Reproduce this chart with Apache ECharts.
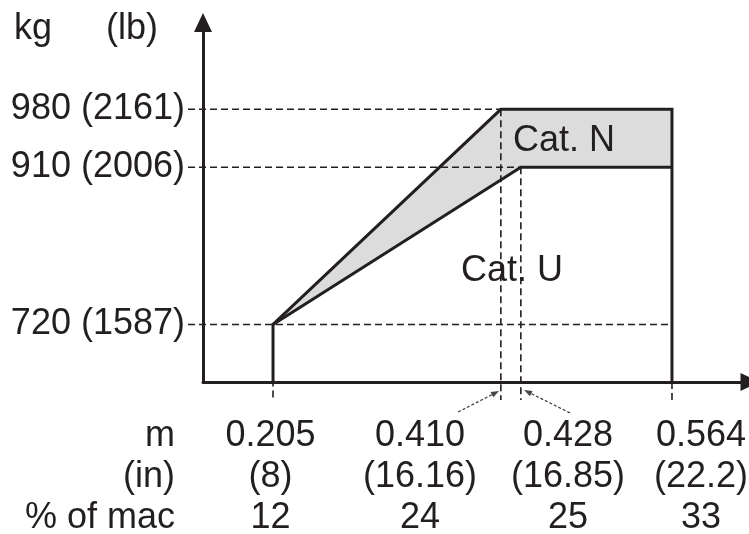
<!DOCTYPE html>
<html>
<head>
<meta charset="utf-8">
<script src="https://cdn.jsdelivr.net/npm/echarts@6/dist/echarts.min.js"></script>
<style>
  html, body { margin: 0; padding: 0; background: #ffffff; }
  #chart { width: 749px; height: 534px; }
</style>
</head>
<body>
<div id="chart"></div>
<script>
// ---- data ----
const cgPositionsM = [0.205, 0.410, 0.428, 0.564];
const cgPositionsIn = ['(8)', '(16.16)', '(16.85)', '(22.2)'];
const cgPercentMac = [12, 24, 25, 33];
// label columns are spread apart under the axis (pointers link 0.410 / 0.428 to their ticks)
const cgLabelAnchorM = [0.2027, 0.3373, 0.4704, 0.5901];
const weightKg = [720, 910, 980];
const weightLb = [1587, 2006, 2161];
const catNBoundary = [[0.205, 720], [0.410, 980], [0.564, 980]];
const catUBoundary = [[0.205, 720], [0.428, 910], [0.564, 910]];
const categoryNames = ['Cat. N', 'Cat. U'];
const categoryLabelPos = [[0.4669, 941.7], [0.4201, 784.6]];
const pointerLines = [
  [0.3715, 614.2, 0.4084, 639.6],
  [0.4722, 613.1, 0.4309, 640.8]
];

// ---- axis ranges ----
const xMin = 0.142, xMax = 0.6342;
const yMin = 650.5, yMax = 1084.9;
const guideLeftM = 0.1285;   // dashed guides start just right of the y labels
const guideBelowKg = 628.7;  // dashed guides stop just below the x axis

const INK = '#231f20';
const FONT = "'Liberation Sans', Arial, Helvetica, sans-serif";
const FS = 36;

// envelope outline (Cat. N outer boundary, down to the axis at both ends)
const outline = [[cgPositionsM[0], yMin]].concat(catNBoundary).concat([[cgPositionsM[3], yMin]]);

// dashed guide lines [x1, y1, x2, y2]
const guides = [
  [guideLeftM, weightKg[2], cgPositionsM[1], weightKg[2]],
  [guideLeftM, weightKg[1], cgPositionsM[2], weightKg[1]],
  [guideLeftM, weightKg[0], cgPositionsM[3], weightKg[0]],
  [cgPositionsM[0], weightKg[0], cgPositionsM[0], guideBelowKg],
  [cgPositionsM[1], weightKg[2], cgPositionsM[1], guideBelowKg],
  [cgPositionsM[2], weightKg[1], cgPositionsM[2], guideBelowKg],
  [cgPositionsM[3], yMin, cgPositionsM[3], guideBelowKg]
];

const chart = echarts.init(document.getElementById('chart'), null, { renderer: 'canvas' });

const option = {
  animation: false,
  backgroundColor: '#ffffff',
  grid: { left: 203, top: 22.5, width: 547, height: 359.5, outerBoundsMode: 'none', containLabel: false },
  xAxis: {
    type: 'value', min: xMin, max: xMax,
    splitLine: { show: false }, axisTick: { show: false },
    axisLine: { show: true, onZero: false, symbol: ['none', 'triangle'], symbolSize: [18, 19],
      lineStyle: { color: INK, width: 3 } },
    axisLabel: {
      customValues: cgLabelAnchorM,
      formatter: function (v) {
        let i = 0, best = Infinity;
        cgLabelAnchorM.forEach(function (a, k) { const d = Math.abs(a - v); if (d < best) { best = d; i = k; } });
        return cgPositionsM[i].toFixed(3) + '\n' + cgPositionsIn[i] + '\n' + cgPercentMac[i];
      },
      margin: 33.5, fontSize: FS, lineHeight: 41, color: INK, fontFamily: FONT
    }
  },
  yAxis: {
    type: 'value', min: yMin, max: yMax,
    splitLine: { show: false }, axisTick: { show: false },
    axisLine: { show: true, onZero: false, symbol: ['none', 'triangle'], symbolSize: [18, 19],
      lineStyle: { color: INK, width: 3 } },
    axisLabel: {
      customValues: weightKg,
      formatter: function (v) {
        const i = weightKg.indexOf(v);
        return v + ' (' + weightLb[i] + ')';
      },
      margin: 18, fontSize: FS, color: INK, fontFamily: FONT
    }
  },
  graphic: [
    { type: 'text', x: 14, y: 29, style: { text: 'kg', fontSize: FS, fontFamily: FONT, fill: INK, verticalAlign: 'middle' } },
    { type: 'text', x: 106, y: 29, style: { text: '(lb)', fontSize: FS, fontFamily: FONT, fill: INK, verticalAlign: 'middle' } },
    { type: 'text', x: 175, y: 415.5, style: { text: 'm\n(in)\n% of mac', fontSize: FS, lineHeight: 41, fontFamily: FONT, fill: INK, align: 'right', verticalAlign: 'top' } }
  ],
  series: [
    {
      // grey band between the two category boundaries
      type: 'custom', z: 1, silent: true,
      data: [0],
      renderItem: function (params, api) {
        const pts = catNBoundary.concat(catUBoundary.slice().reverse()).map(function (p) { return api.coord(p); });
        return { type: 'polygon', shape: { points: pts }, style: { fill: '#dcdcdc', stroke: null } };
      }
    },
    {
      type: 'line', z: 3, data: outline, showSymbol: false, symbol: 'none', silent: true,
      lineStyle: { color: INK, width: 3, join: 'miter' }
    },
    {
      type: 'line', z: 3, data: catUBoundary, showSymbol: false, symbol: 'none', silent: true,
      lineStyle: { color: INK, width: 3, join: 'miter' }
    },
    {
      type: 'custom', z: 4, silent: true,
      data: categoryLabelPos.map(function (p, i) { return [p[0], p[1], i]; }),
      renderItem: function (params, api) {
        const p = api.coord([api.value(0), api.value(1)]);
        return { type: 'text', x: p[0], y: p[1],
          style: { text: categoryNames[api.value(2)], fontSize: FS, fontFamily: FONT, fill: INK, align: 'center', verticalAlign: 'middle' } };
      }
    },
    {
      type: 'custom', z: 5, silent: true, clip: false,
      data: guides,
      renderItem: function (params, api) {
        const a = api.coord([api.value(0), api.value(1)]);
        const b = api.coord([api.value(2), api.value(3)]);
        return { type: 'line', shape: { x1: a[0], y1: a[1], x2: b[0], y2: b[1] },
          style: { stroke: INK, lineWidth: 1.6, lineDash: [7, 4] } };
      }
    },
    {
      type: 'custom', z: 5, silent: true, clip: false,
      data: pointerLines,
      renderItem: function (params, api) {
        const a = api.coord([api.value(0), api.value(1)]);
        const b = api.coord([api.value(2), api.value(3)]);
        const dx = b[0] - a[0], dy = b[1] - a[1];
        const len = Math.sqrt(dx * dx + dy * dy);
        const ux = dx / len, uy = dy / len;
        const hl = 8, hw = 3;
        const base = [b[0] - ux * hl, b[1] - uy * hl];
        return { type: 'group', children: [
          { type: 'line', shape: { x1: a[0], y1: a[1], x2: base[0], y2: base[1] },
            style: { stroke: '#444', lineWidth: 1.3, lineDash: [3, 2] } },
          { type: 'polygon', shape: { points: [b, [base[0] - uy * hw, base[1] + ux * hw], [base[0] + uy * hw, base[1] - ux * hw]] },
            style: { fill: '#444' } }
        ] };
      }
    }
  ]
};

chart.setOption(option);
</script>
</body>
</html>
